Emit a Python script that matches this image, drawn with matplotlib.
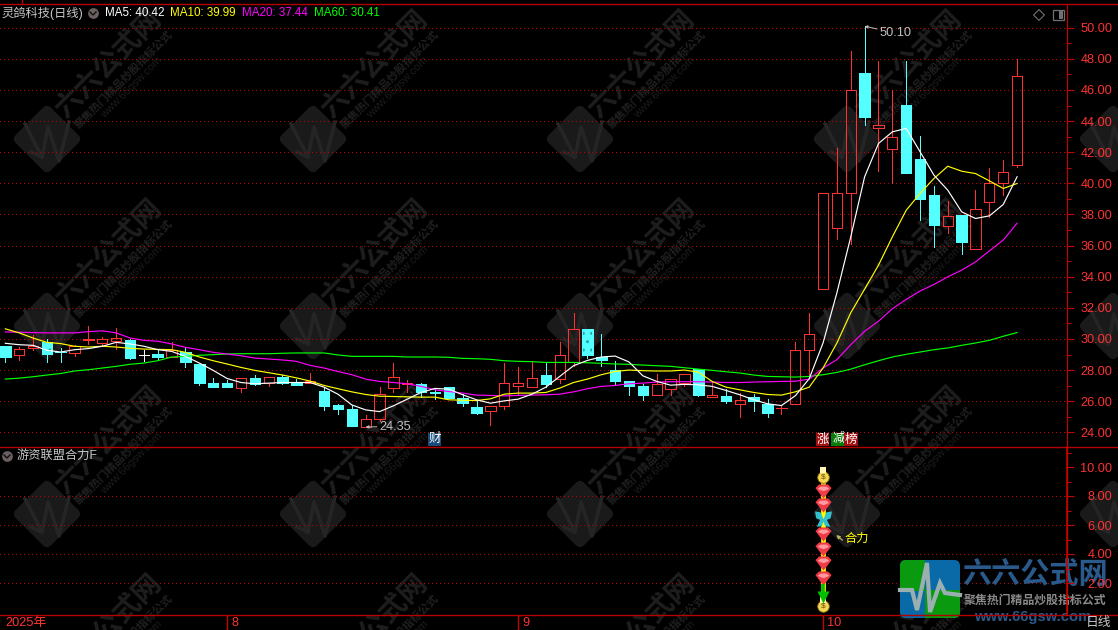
import matplotlib
matplotlib.use('Agg')
import matplotlib.pyplot as plt
import numpy as np
from matplotlib.patches import FancyBboxPatch, Rectangle
from matplotlib.transforms import Affine2D

plt.rcParams['font.family'] = ['Liberation Sans', 'Noto Sans CJK SC', 'DejaVu Sans']

# daily candles
opens = [29.57, 28.95, 29.40, 29.78, 29.17, 29.10, 29.95, 29.74, 29.87, 29.91,
         28.97, 29.05, 28.84, 29.18, 28.40, 27.18, 27.18, 26.84, 27.50, 27.20,
         27.57, 27.20, 27.20, 26.67, 25.76, 25.50, 24.37, 24.84, 26.82, 27.08,
         27.12, 26.60, 26.92, 26.19, 25.63, 25.35, 25.66, 26.95, 26.88, 27.70,
         27.42, 28.54, 30.67, 28.84, 28.02, 27.31, 26.99, 26.37, 26.77, 27.16,
         28.04, 26.24, 26.34, 25.85, 26.24, 25.85, 25.56, 25.80, 29.27, 33.20,
         37.16, 39.35, 47.08, 43.53, 42.22, 45.03, 41.55, 39.24, 37.27, 37.95,
         35.79, 38.83, 40.05, 41.19]
closes = [28.86, 29.35, 29.53, 29.05, 29.15, 29.57, 29.97, 30.00, 30.06, 28.80,
          28.97, 28.86, 29.31, 28.49, 27.20, 26.88, 26.88, 27.46, 27.12, 27.55,
          27.16, 27.01, 27.27, 25.70, 25.50, 24.41, 24.84, 26.45, 27.55, 27.14,
          26.60, 26.55, 26.20, 25.89, 25.25, 25.68, 27.16, 27.16, 27.48, 27.12,
          28.97, 30.65, 28.95, 28.67, 27.31, 26.95, 26.41, 27.12, 27.42, 27.76,
          26.41, 26.39, 25.98, 26.09, 25.98, 25.27, 25.58, 29.27, 30.30, 39.41,
          39.35, 46.03, 44.25, 43.74, 43.01, 40.68, 39.00, 37.33, 37.91, 36.24,
          38.32, 40.05, 40.70, 46.93]
highs = [29.57, 29.50, 30.28, 30.00, 29.42, 29.63, 30.86, 30.13, 30.71, 30.00,
         29.31, 29.31, 29.80, 29.48, 28.40, 27.48, 27.38, 27.46, 27.70, 27.55,
         27.68, 27.42, 27.80, 26.90, 25.83, 25.74, 25.10, 26.90, 28.45, 27.38,
         27.16, 26.84, 26.92, 26.47, 25.98, 25.68, 28.45, 28.19, 28.56, 28.49,
         29.83, 31.68, 30.67, 30.34, 28.60, 27.31, 27.12, 27.76, 27.42, 27.76,
         28.04, 27.27, 26.77, 26.52, 26.47, 26.15, 25.76, 29.83, 31.67, 39.41,
         42.26, 48.50, 50.10, 47.86, 46.03, 47.86, 43.03, 39.82, 38.85, 37.95,
         39.56, 40.98, 41.49, 47.98]
lows = [28.49, 28.67, 29.31, 28.54, 28.54, 28.88, 29.70, 29.53, 29.38, 28.71,
        28.60, 28.71, 28.84, 28.17, 27.07, 26.88, 26.88, 26.62, 27.05, 27.00,
        27.08, 27.01, 27.16, 25.44, 25.20, 24.41, 24.35, 24.75, 26.56, 26.56,
        26.30, 26.13, 26.20, 25.70, 25.18, 24.47, 25.50, 26.37, 26.88, 26.90,
        27.18, 28.24, 28.80, 28.28, 27.03, 26.41, 26.09, 26.37, 26.41, 26.99,
        26.34, 26.24, 25.91, 25.01, 25.40, 25.01, 25.18, 25.80, 27.60, 33.20,
        36.43, 36.09, 43.74, 40.80, 39.99, 40.68, 37.63, 35.92, 36.82, 35.44,
        35.79, 37.85, 39.24, 41.06]

ma5 = [29.72, 29.63, 29.59, 29.27, 29.16, 29.31, 29.38, 29.53, 29.78, 29.68,
       29.53, 29.31, 29.20, 28.88, 28.45, 27.98, 27.46, 27.20, 27.12, 27.16,
       27.20, 27.20, 27.20, 26.90, 26.45, 25.76, 25.44, 25.33, 25.70, 26.13,
       26.56, 26.82, 26.77, 26.41, 26.09, 25.87, 26.02, 26.13, 26.45, 26.90,
       27.59, 28.28, 28.62, 28.84, 28.90, 28.52, 27.63, 27.27, 27.03, 27.08,
       27.05, 26.95, 26.69, 26.41, 26.09, 25.83, 25.72, 26.35, 27.44, 29.74,
       32.97, 36.56, 40.42, 42.56, 43.31, 43.53, 42.03, 40.53, 39.56, 38.17,
       37.74, 37.91, 38.64, 40.42]
ma10 = [30.65, 30.39, 30.06, 29.78, 29.70, 29.53, 29.48, 29.53, 29.48, 29.40,
        29.35, 29.33, 29.31, 29.14, 28.84, 28.60, 28.39, 28.17, 27.98, 27.83,
        27.68, 27.50, 27.29, 27.01, 26.80, 26.60, 26.43, 26.32, 26.30, 26.28,
        26.26, 26.26, 26.09, 26.06, 26.04, 26.15, 26.45, 26.52, 26.52, 26.56,
        26.84, 27.20, 27.42, 27.70, 27.91, 28.00, 27.96, 27.94, 27.94, 28.00,
        27.87, 27.27, 26.90, 26.73, 26.56, 26.43, 26.39, 26.60, 26.90, 28.13,
        29.74, 31.68, 33.20, 34.74, 36.56, 38.27, 39.35, 40.31, 41.10, 40.78,
        40.63, 40.16, 39.67, 39.99]
ma20 = [30.45, 30.43, 30.41, 30.39, 30.39, 30.39, 30.47, 30.52, 30.39, 30.06,
        29.91, 29.85, 29.68, 29.46, 29.31, 29.14, 29.03, 28.92, 28.77, 28.71,
        28.65, 28.56, 28.30, 28.13, 27.91, 27.70, 27.42, 27.27, 27.20, 27.12,
        26.95, 26.73, 26.62, 26.52, 26.39, 26.37, 26.34, 26.37, 26.39, 26.41,
        26.45, 26.60, 26.80, 26.95, 27.01, 27.12, 27.16, 27.23, 27.25, 27.25,
        27.25, 27.23, 27.20, 27.20, 27.23, 27.25, 27.27, 27.28, 27.42, 28.13,
        28.67, 29.63, 30.49, 31.14, 31.94, 32.54, 33.08, 33.50, 33.99, 34.42,
        34.95, 35.66, 36.35, 37.44]
ma60 = [27.42, 27.48, 27.57, 27.68, 27.78, 27.94, 28.02, 28.13, 28.24, 28.37,
        28.45, 28.60, 28.84, 28.88, 28.95, 28.99, 29.03, 29.05, 29.05, 29.05,
        29.08, 29.10, 29.10, 29.10, 28.97, 28.88, 28.88, 28.88, 28.88, 28.84,
        28.84, 28.84, 28.82, 28.75, 28.73, 28.69, 28.60, 28.56, 28.54, 28.49,
        28.49, 28.49, 28.47, 28.43, 28.39, 28.37, 28.32, 28.28, 28.24, 28.15,
        28.06, 27.98, 27.89, 27.81, 27.68, 27.59, 27.57, 27.55, 27.59, 27.70,
        27.85, 28.06, 28.34, 28.60, 28.84, 29.01, 29.16, 29.31, 29.42, 29.59,
        29.74, 29.91, 30.17, 30.41]

legend_labels = ['MA5: 40.42', 'MA10: 39.99', 'MA20: 37.44', 'MA60: 30.41']

main_ticks = list(range(24, 52, 2))
sub_ticks = [2, 4, 6, 8, 10]
sub_grid_vals = [2, 4, 6, 8]
month_idx = [16, 37, 59]
month_labels = ['8', '9', '10']
speckled = [3, 42]

# signal stack in the lower panel, all on one bar
signal_idx = 59
gem_vals = [8.41, 7.45, 5.45, 4.41, 3.45, 2.41]
bag_vals = [9.31, 0.41]
butterfly_vals = [6.41]
arrow_vals = [1.05]

RED = '#ff3232'
CYAN = '#54ffff'
FRAME = '#b40000'
GRID = '#c00000'
W, H = 1118, 630
XL = -5.3 / 13.86, (1067 - 5.3) / 13.86


def pane(top, bottom, z):
    a = fig.add_axes([0, 1 - bottom / H, 1067 / W, (bottom - top) / H], zorder=z)
    a.patch.set_alpha(0)
    a.set_xlim(XL)
    for s in ['top', 'left', 'bottom']:
        a.spines[s].set_visible(False)
    a.spines['right'].set_color('#c80000')
    a.set_xticks([])
    return a


def dotted(a, vals):
    for v in vals:
        a.axhline(v, color=GRID, lw=0.72, dashes=(1.0, 3.0), antialiased=False, zorder=1)


def ticks_right(a, major, minor):
    a.yaxis.tick_right()
    a.set_yticks(major)
    a.set_yticks(minor, minor=True)
    a.set_yticklabels(['%.2f' % v for v in major], ha='right')
    a.tick_params(axis='y', which='major', length=5, width=0.8, color='#c80000',
                  labelcolor=RED, labelsize=9.2, pad=27.5)
    a.tick_params(axis='y', which='minor', length=3, width=0.8, color='#c80000')


def watermark(bg, cx, cy):
    # the rounded diamond
    rot = Affine2D().rotate_deg_around(cx, cy, 45) + bg.transData
    bg.add_patch(FancyBboxPatch((cx - 20, cy - 20), 40, 40, boxstyle='round,pad=5,rounding_size=6',
                                fc='#1a1a1a', ec='none', transform=rot, zorder=1))
    bg.plot([cx - 16, cx - 5, cx + 1, cx + 12, cx + 22],
            [cy + 13, cy + 18, cy - 12, cy + 22, cy - 17],
            color='#252525', lw=2.6, zorder=2)
    bg.plot([cx - 22, cx - 5], [cy - 15, cy + 18], color='#252525', lw=2.6, zorder=2)
    # the text running up to the right, only where it lands on the canvas
    if cx + 62 < W:
        bg.text(cx + 62, cy + 115, '六六公式网', color='#1e1e1e', fontsize=20, fontweight='bold',
                rotation=45, ha='center', va='center', zorder=1)
        bg.text(cx + 76, cy + 129, '聚焦热门精品炒股指标公式', color='#202020', fontsize=8, fontweight='bold',
                rotation=45, ha='center', va='center', zorder=1)
        bg.text(cx + 85, cy + 137, 'www.66gsw.com', color='#1c1c1c', fontsize=8,
                rotation=45, ha='center', va='center', zorder=1)


fig = plt.figure(figsize=(W / 100, H / 100), dpi=100, facecolor='black')

bg = fig.add_axes([0, 0, 1, 1], zorder=0)
bg.set_xlim(0, W)
bg.set_ylim(H, 0)
bg.axis('off')
for row_y in [-50, 139, 326, 514]:
    for col_x in [47, 313, 580, 847, 1113]:
        watermark(bg, col_x, row_y)

# main panel
ax = pane(4, 447, 2)
ax.set_ylim(24 + (432.3 - 447) / 15.56, 24 + (432.3 - 4) / 15.56)
dotted(ax, main_ticks)
ticks_right(ax, main_ticks, list(range(25, 51, 2)))

x = np.arange(len(opens))
o = np.array(opens)
c = np.array(closes)
h = np.array(highs)
l = np.array(lows)
top = np.maximum(o, c)
bot = np.minimum(o, c)
up = c > o
down = c < o
flat = c == o

ax.vlines(x[up], top[up], h[up], color=RED, lw=0.72, zorder=3, antialiased=False)
ax.vlines(x[up], l[up], bot[up], color=RED, lw=0.72, zorder=3, antialiased=False)
ax.bar(x[up], (top - bot)[up], bottom=bot[up], width=0.74, facecolor='none',
       edgecolor=RED, linewidth=0.72, zorder=3, antialiased=False)
ax.vlines(x[down], l[down], h[down], color=CYAN, lw=0.72, zorder=3, antialiased=False)
ax.bar(x[down], (top - bot)[down], bottom=bot[down], width=0.76, facecolor=CYAN,
       edgecolor=CYAN, linewidth=0.5, zorder=3, antialiased=False)
ax.vlines(x[flat], l[flat], h[flat], color='white', lw=0.72, zorder=3, antialiased=False)
ax.hlines(c[flat], x[flat] - 0.38, x[flat] + 0.38, color='white', lw=0.72, zorder=3, antialiased=False)
ax.bar(x[speckled], (top - bot)[speckled], bottom=bot[speckled], width=0.6, facecolor='none',
       edgecolor='#2aa8a8', linewidth=0, hatch='..', zorder=3)

ax.plot(x, ma60, color='#00ff00', lw=0.85, zorder=4)
ax.plot(x, ma20, color='#ff00ff', lw=0.85, zorder=4)
ax.plot(x, ma10, color='#ffff00', lw=0.85, zorder=4)
ax.plot(x, ma5, color='white', lw=0.85, zorder=4)

ax.annotate('50.10', xy=(62, 50.10), xytext=(11, -5), textcoords='offset points',
            color='#c0c0c0', fontsize=9.2, va='center', zorder=6,
            arrowprops=dict(arrowstyle='-|>', color='#c0c0c0', lw=0.7, shrinkA=0, shrinkB=0, mutation_scale=4))
ax.annotate('24.35', xy=(26, 24.35), xytext=(10, 0), textcoords='offset points',
            color='#c0c0c0', fontsize=9.2, va='center', zorder=6,
            arrowprops=dict(arrowstyle='-|>', color='#c0c0c0', lw=0.7, shrinkA=0, shrinkB=0, mutation_scale=4))

# event tags under the candles
for xt, txt, col in [(30.97, '财', '#1a4a78'), (58.96, '涨', '#a01010'), (60.1, '减', '#0a7a0a'), (61.0, '榜', '#a01010')]:
    ax.text(xt, 23.54, txt, color='white', fontsize=9, ha='center', va='center', zorder=6,
            bbox=dict(boxstyle='square,pad=0.05', fc=col, ec='none'))

# lower panel: grid goes under the logo, the rest over it
sub_grid = pane(447, 615, 2)
sub_grid.set_ylim(-3 / 14.5, 165 / 14.5)
sub_grid.set_yticks([])
dotted(sub_grid, sub_grid_vals)

bg2 = fig.add_axes([0, 0, 1, 1], zorder=3)
bg2.patch.set_alpha(0)
bg2.set_xlim(0, W)
bg2.set_ylim(H, 0)
bg2.axis('off')

# logo, bottom right
box = FancyBboxPatch((903, 563), 54, 52, boxstyle='round,pad=3,rounding_size=6', fc='#0a6aa8', ec='none', zorder=5)
bg2.add_patch(box)
for rx, ry, rw, rh, col in [(900, 560, 25, 31, '#0a9a10'), (925, 590, 35, 30, '#0a9a10')]:
    r = Rectangle((rx, ry), rw, rh, fc=col, ec='none', zorder=6)
    bg2.add_patch(r)
    r.set_clip_path(box)
pulse_x = [900, 912, 917, 927, 930, 940, 945, 960]
pulse_y = [590, 590, 610, 563, 612, 583, 593, 595]
bg2.plot(pulse_x, pulse_y, color='#9ab0b0', lw=3, zorder=7, solid_joinstyle='miter')
bg2.text(1035, 575, '六六公式网', color='#2a5a8c', fontsize=21, fontweight='bold', ha='center', va='center', zorder=7)
bg2.text(1035, 601, '聚焦热门精品炒股指标公式', color='#8a8a8a', fontsize=8.6, fontweight='bold', ha='center', va='center', zorder=7)
bg2.text(1033, 617, 'www.66gsw.com', color='#2a5a8c', fontsize=10.6, fontweight='bold', ha='center', va='center', zorder=7)

sub = pane(447, 615, 4)
sub.set_ylim(-3 / 14.5, 165 / 14.5)
ticks_right(sub, sub_ticks, [1, 3, 5, 7, 9, 11])
sub.spines['right'].set_linewidth(1.2)

sub.vlines(signal_idx, 0.3, 9.95, color='#ffff00', lw=3.4, zorder=3)
n_gem = [signal_idx] * len(gem_vals)
sub.scatter(n_gem, gem_vals, s=135, c='#f03c46', zorder=4, linewidths=0,
            marker=[(-1, 0.3), (-0.55, 0.75), (0.55, 0.75), (1, 0.3), (0, -1)])
sub.scatter(n_gem, [v + 0.1 for v in gem_vals], s=70, c='#ff9aa0', zorder=5, linewidths=0,
            marker=[(-1, 0.1), (-0.5, 0.5), (0.5, 0.5), (1, 0.1), (0, -0.3)])
n_bag = [signal_idx] * len(bag_vals)
sub.scatter(n_bag, bag_vals, s=70, c='#f4d850', edgecolors='#8a6a10', linewidths=0.6, zorder=4)
sub.scatter(n_bag, [v + 0.45 for v in bag_vals], s=14, c='#fff4b0', marker='s', linewidths=0, zorder=4)
for v in bag_vals:
    sub.text(signal_idx, v, '$', color='#6a4a10', fontsize=6, ha='center', va='center', zorder=5)
sub.scatter([signal_idx] * len(butterfly_vals), butterfly_vals, s=150, c='#30c0d0', linewidths=0, zorder=6,
            marker=[(0, 0.05), (-0.35, 0.85), (-1, 0.95), (-0.85, 0.15), (-0.4, -0.05), (-0.8, -0.85), (-0.2, -0.8),
                    (0, -0.25), (0.2, -0.8), (0.8, -0.85), (0.4, -0.05), (0.85, 0.15), (1, 0.95), (0.35, 0.85)])
sub.vlines(signal_idx, 1.3, 1.95, color='#00c000', lw=2.6, zorder=4)
sub.scatter([signal_idx] * len(arrow_vals), arrow_vals, s=75, c='#00c000', marker='v', linewidths=0, zorder=4)
sub.annotate('', xy=(59.95, 5.31), xytext=(60.4, 4.95), zorder=6,
             arrowprops=dict(arrowstyle='-|>', color='#c0b060', lw=0.9, shrinkA=0, shrinkB=0, mutation_scale=5))
sub.text(60.52, 5.03, '合力', color='#ffff00', fontsize=8.8, va='center', zorder=6)

# date strip
sub.set_xticks(month_idx)
sub.set_xticklabels([])
sub.tick_params(axis='x', length=11, width=1, color='#c80000')
for i, lab in zip(month_idx, month_labels):
    sub.text(i + 0.3, -0.75, lab, color=RED, fontsize=9.2, va='center', clip_on=False)
sub.text(0, -0.75, '2025年', color=RED, fontsize=9.2, va='center', clip_on=False)

# frame and header, in pixels
for yy in [4, 447, 615]:
    bg2.plot([0, W], [yy, yy], color=FRAME, lw=1.0, zorder=8)
bg2.plot([22, 22], [0, 4], color=FRAME, lw=1.0, zorder=8)
bg2.text(1098, 623, '日线', color='#c8c8c8', fontsize=9.2, ha='center', va='center', zorder=8)
bg2.text(2, 13, '灵鸽科技(日线)', color='#c8c8c8', fontsize=8.8, va='center', zorder=8)
bg2.text(17, 456, '游资联盟合力F', color='#c8c8c8', fontsize=8.8, va='center', zorder=8)
for ic_x, ic_y in [(93, 13), (7, 456)]:
    bg2.scatter([ic_x], [ic_y], s=60, c='#6a6060', linewidths=0, zorder=8)
    bg2.plot([ic_x - 3, ic_x, ic_x + 3], [ic_y - 1, ic_y + 2, ic_y - 1], color='#101010', lw=1.0, zorder=9)
for lx, lab, col in zip([105, 170, 242, 314], legend_labels, ['white', '#ffff00', '#ff00ff', '#00ff00']):
    bg2.text(lx, 13, lab, color=col, fontsize=8.4, va='center', zorder=8)
bg2.scatter([1039], [15], s=30, marker='D', facecolors='none', edgecolors='#707070', linewidths=0.8, zorder=8)
bg2.add_patch(Rectangle((1053, 10), 11, 10, fc='none', ec='#707070', lw=0.9, zorder=8))
bg2.add_patch(Rectangle((1059, 11), 4, 8, fc='#707070', ec='none', zorder=8))

fig.savefig('out.png', dpi=100, facecolor='black')
